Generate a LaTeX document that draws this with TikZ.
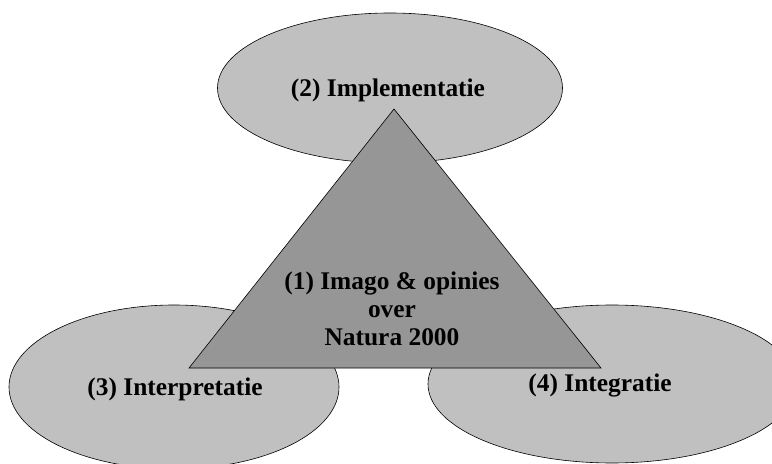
\documentclass[tikz,border=0pt]{standalone}
\usepackage{fontspec}
\setmainfont{Liberation Serif}
\usetikzlibrary{shapes.geometric}
\definecolor{ellfill}{HTML}{C0C0C0}
\definecolor{trifill}{HTML}{969696}
\begin{document}
\begin{tikzpicture}[x=1bp,y=-1bp,
  oval/.style={ellipse,draw=black,fill=ellfill,line width=0.6bp,inner sep=0pt},
  lbl/.style={font=\fontsize{25.5}{28}\selectfont\bfseries,align=center,inner sep=0pt},
  tri/.style={draw=black,fill=trifill,line width=0.6bp,line join=miter}]
\useasboundingbox (0,0) rectangle (772,464);
\clip (0,0) rectangle (772,464);
\node[oval,minimum width=345bp,minimum height=150bp] (e2) at (390,88) {};
\node[oval,minimum width=330bp,minimum height=164bp] (e3) at (174,387) {};
\node[oval,minimum width=368bp,minimum height=158bp] (e4) at (612,384) {};
\coordinate (ta) at (394,109);
\coordinate (tl) at (189,368);
\coordinate (tr) at (601,368);
\draw[tri] (ta) -- (tr) -- (tl) -- cycle;
\node[lbl] (t2) at (388,90) {(2) Implementatie};
\node[lbl] (t3) at (175,389) {(3) Interpretatie};
\node[lbl] (t4) at (600,385) {(4) Integratie};
\node[lbl] (t1) at (392,309) {(1) Imago \& opinies\\over\\Natura 2000};
\end{tikzpicture}
\end{document}
